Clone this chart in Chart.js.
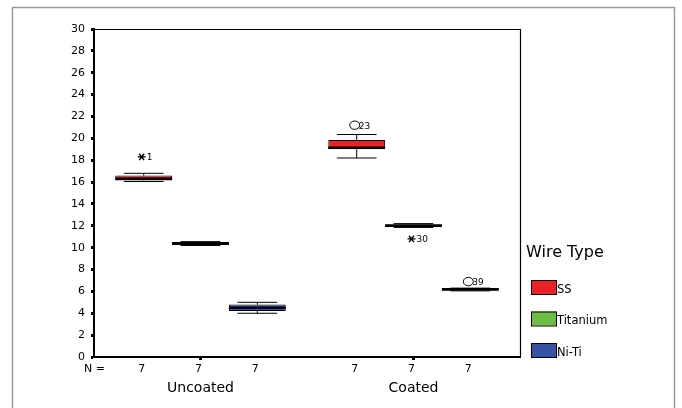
<!DOCTYPE html>
<html>
<head>
<meta charset="utf-8">
<script src="https://cdn.jsdelivr.net/npm/chart.js@4.4.1/dist/chart.umd.min.js"></script>
<style>
  body { margin: 0; background: #fff; }
  canvas { display: block; }
</style>
</head>
<body>
<canvas id="boxChart" width="682" height="408"></canvas>
<script>
// Datos
const groups = ['Uncoated', 'Coated'];
const wireTypes = ['SS', 'Titanium', 'Ni-Ti'];
const wireColors = ['#ee2027', '#6bbd45', '#3953a4'];
const groupN = [[7, 7], [7, 7], [7, 7]];

// una fila por tipo de alambre, una columna por grupo
const lowWhisker = [[16.05, 18.2], [10.2, 11.85], [4.0, 6.05]];
const q1 = [[16.15, 19.0], [10.25, 11.9], [4.2, 6.05]];
const median = [[16.3, 19.15], [10.4, 12.0], [4.5, 6.2]];
const q3 = [[16.6, 19.85], [10.5, 12.15], [4.8, 6.3]];
const highWhisker = [[16.8, 20.35], [10.55, 12.2], [5.0, 6.3]];

// valores atípicos
const outlierSeries = [0, 0, 1, 2];
const outlierGroup = [0, 1, 1, 1];
const outlierValue = [18.3, 21.2, 10.8, 6.9];
const outlierCase = ['1', '23', '30', '39'];
const outlierKind = ['extreme', 'outlier', 'extreme', 'outlier'];

const yMin = 0, yMax = 30, yStep = 2;

const FONT = 'DejaVu Sans';

// Marco gris exterior y marco del gráfico
const framePlugin = {
    id: 'frame',
    beforeDraw(chart) {
        const c = chart.ctx;
        c.save();
        c.fillStyle = '#fff';
        c.fillRect(0, 0, chart.width, chart.height);
        c.strokeStyle = '#9a9a9a';
        c.lineWidth = 1.5;
        c.beginPath();
        c.moveTo(12.5, chart.height);
        c.lineTo(12.5, 7.5);
        c.lineTo(674.5, 7.5);
        c.lineTo(674.5, chart.height);
        c.stroke();
        c.restore();
    },
    afterDraw(chart) {
        const c = chart.ctx;
        const a = chart.chartArea;
        c.save();
        c.strokeStyle = '#000';
        c.lineWidth = 1.2;
        c.beginPath();
        c.moveTo(a.left, a.top + 0.5);
        c.lineTo(a.right + 0.5, a.top + 0.5);
        c.lineTo(a.right + 0.5, a.bottom);
        c.stroke();
        c.restore();
    }
};

// Bigotes, medianas, atípicos, fila N y leyenda
const boxPlugin = {
    id: 'boxExtras',
    afterDatasetsDraw(chart) {
        const c = chart.ctx;
        const y = chart.scales.y;
        c.save();
        c.strokeStyle = '#000';
        wireTypes.forEach((w, i) => {
            const meta = chart.getDatasetMeta(i);
            meta.data.forEach((bar, j) => {
                const x = bar.x;
                const half = bar.width / 2;
                const cap = bar.width * 0.35;
                const yq1 = y.getPixelForValue(q1[i][j]);
                const yq3 = y.getPixelForValue(q3[i][j]);
                const ylo = y.getPixelForValue(lowWhisker[i][j]);
                const yhi = y.getPixelForValue(highWhisker[i][j]);
                const ymed = y.getPixelForValue(median[i][j]);
                c.lineWidth = 1;
                c.beginPath();
                c.moveTo(x, yq3); c.lineTo(x, yhi);
                c.moveTo(x - cap, yhi); c.lineTo(x + cap, yhi);
                c.moveTo(x, yq1); c.lineTo(x, ylo);
                c.moveTo(x - cap, ylo); c.lineTo(x + cap, ylo);
                c.stroke();
                c.lineWidth = 2.5;
                c.beginPath();
                c.moveTo(x - half, ymed); c.lineTo(x + half, ymed);
                c.stroke();
            });
        });

        // atípicos
        c.font = '9px ' + FONT;
        c.textBaseline = 'middle';
        c.textAlign = 'left';
        c.fillStyle = '#000';
        outlierValue.forEach((v, k) => {
            const bar = chart.getDatasetMeta(outlierSeries[k]).data[outlierGroup[k]];
            const x = bar.x - 2;
            const py = y.getPixelForValue(v);
            c.lineWidth = 1;
            if (outlierKind[k] === 'extreme') {
                const r = 4;
                c.lineWidth = 1.4;
                c.beginPath();
                c.moveTo(x - r, py); c.lineTo(x + r, py);
                c.moveTo(x - r * 0.6, py - r * 0.8); c.lineTo(x + r * 0.6, py + r * 0.8);
                c.moveTo(x - r * 0.6, py + r * 0.8); c.lineTo(x + r * 0.6, py - r * 0.8);
                c.stroke();
                c.fillText(outlierCase[k], x + 5, py + 1);
            } else {
                c.beginPath();
                c.ellipse(x, py, 5, 4.2, 0, 0, Math.PI * 2);
                c.stroke();
                c.fillText(outlierCase[k], x + 4, py + 1);
            }
        });
        c.restore();
    },
    afterDraw(chart) {
        const c = chart.ctx;
        c.save();
        c.fillStyle = '#000';
        c.textBaseline = 'middle';

        // fila N =
        c.font = '11px ' + FONT;
        c.textAlign = 'left';
        c.fillText('N =', 84, 369);
        c.textAlign = 'center';
        wireTypes.forEach((w, i) => {
            chart.getDatasetMeta(i).data.forEach((bar, j) => {
                c.fillText(String(groupN[i][j]), bar.x - 2, 369);
            });
        });

        // leyenda
        c.textAlign = 'left';
        c.font = '16px ' + FONT;
        c.fillText('Wire Type', 526, 253);
        c.font = '11.5px ' + FONT;
        wireTypes.forEach((w, i) => {
            const top = 280 + i * 31.5;
            c.fillStyle = wireColors[i];
            c.fillRect(531, top, 25, 14);
            c.strokeStyle = '#000';
            c.lineWidth = 1;
            c.strokeRect(531.5, top + 0.5, 25, 14);
            c.fillStyle = '#000';
            c.fillText(w, 557, top + 10);
        });
        c.restore();
    }
};

const ctx = document.getElementById('boxChart').getContext('2d');
new Chart(ctx, {
    type: 'bar',
    data: {
        labels: groups,
        datasets: wireTypes.map((w, i) => ({
            label: w,
            data: groups.map((g, j) => [q1[i][j], q3[i][j]]),
            backgroundColor: wireColors[i],
            borderColor: '#000',
            borderWidth: 1,
            borderSkipped: false
        }))
    },
    options: {
        responsive: false,
        animation: false,
        devicePixelRatio: 1,
        layout: { padding: { top: 29, right: 162, left: 0, bottom: 0 } },
        datasets: { bar: { categoryPercentage: 0.8, barPercentage: 1.0 } },
        plugins: {
            legend: { display: false },
            tooltip: { enabled: false }
        },
        scales: {
            x: {
                afterFit(scale) { scale.height = 51; },
                grid: {
                    offset: false,
                    drawOnChartArea: false,
                    tickLength: 3,
                    tickWidth: 3,
                    color: '#000'
                },
                border: { display: true, color: '#000', width: 2 },
                ticks: {
                    color: '#000',
                    padding: 20,
                    font: { family: FONT, size: 14 }
                }
            },
            y: {
                min: yMin,
                max: yMax,
                afterFit(scale) { scale.width = 94; },
                grid: {
                    drawOnChartArea: false,
                    tickLength: 3,
                    tickWidth: 3,
                    color: '#000'
                },
                border: { display: true, color: '#000', width: 2 },
                ticks: {
                    stepSize: yStep,
                    color: '#000',
                    padding: 6,
                    font: { family: FONT, size: 11 }
                }
            }
        }
    },
    plugins: [framePlugin, boxPlugin]
});
</script>
</body>
</html>
